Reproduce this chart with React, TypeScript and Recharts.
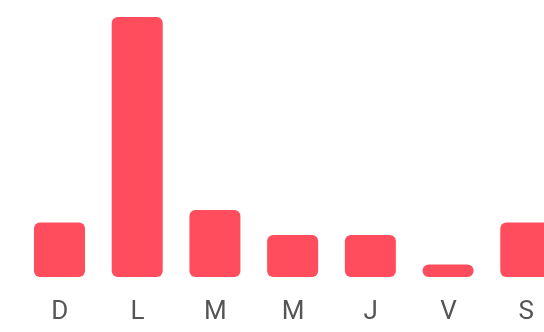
import React from 'react';
import { BarChart, Bar, XAxis, YAxis } from 'recharts';

const days = ['D', 'L', 'M', 'M', 'J', 'V', 'S'];
const counts = [13, 62, 16, 10, 10, 3, 13];

const data = days.map((day, i) => ({ id: i, day, value: counts[i] }));

const BAR_COLOR = '#ff4d5e';

const App: React.FC = () => {
  return (
    <div
      style={{
        position: 'fixed',
        left: 0,
        top: 0,
        width: 544,
        height: 332,
        overflow: 'hidden',
        fontFamily: 'Roboto, sans-serif',
      }}
    >
      <BarChart
        width={580}
        height={332}
        data={data}
        margin={{ top: 17, right: 15, bottom: 25, left: 21 }}
      >
        <XAxis
          dataKey="id"
          tickFormatter={(i: number) => days[i]}
          axisLine={false}
          tickLine={false}
          tickMargin={18}
          tick={{ fill: '#555', fontSize: 26 }}
          interval={0}
        />
        <YAxis hide domain={[0, 'dataMax']} />
        <Bar dataKey="value" fill={BAR_COLOR} barSize={51} radius={[6, 6, 6, 6]} isAnimationActive={false} />
      </BarChart>
    </div>
  );
};

export default App;
